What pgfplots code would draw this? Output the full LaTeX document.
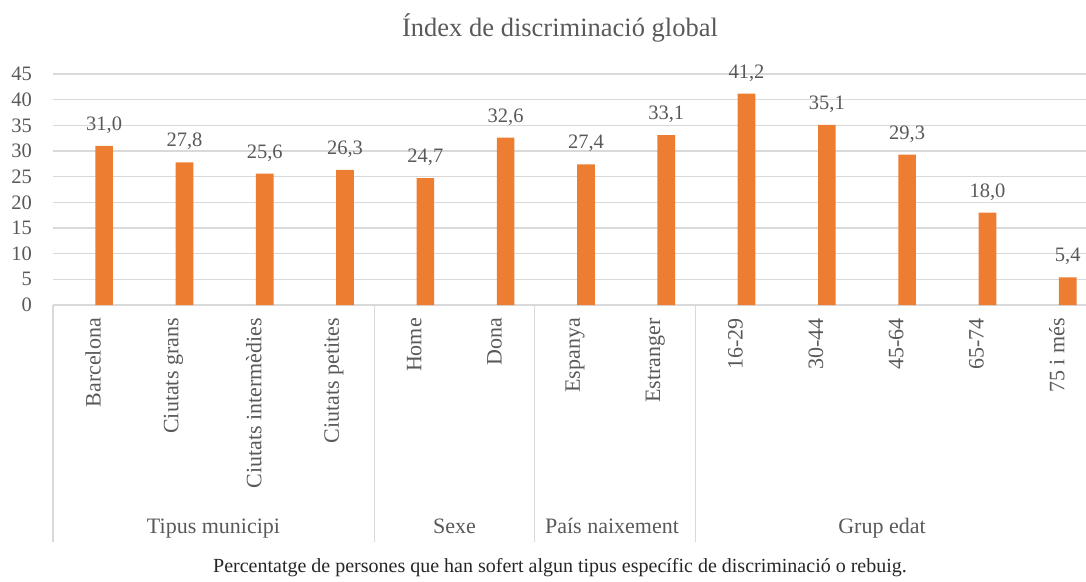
\documentclass[border=0pt]{standalone}
\usepackage{pgfplots}
\pgfplotsset{compat=1.18}
\usepackage{fontspec}
\setmainfont{Liberation Serif}
\definecolor{barorange}{HTML}{ED7D31}
\definecolor{txtgray}{HTML}{595959}
\definecolor{gridgray}{HTML}{D9D9D9}
\begin{document}
\begin{tikzpicture}
\useasboundingbox (0pt,0pt) rectangle (1086pt,581pt);
\clip (0pt,0pt) rectangle (1086pt,581pt);
\begin{axis}[
  at={(53pt,276pt)}, anchor=south west,
  scale only axis, width=1043.9pt, height=231pt,
  xmin=-0.5, xmax=12.5, ymin=0, ymax=45,
  clip=false,
  axis x line*=bottom, axis y line*=left,
  axis line style={draw=none},
  ymajorgrids, grid style={gridgray, line width=1.1pt},
  major tick length=0pt,
  /pgf/number format/assume math mode=true,
  ytick={0,5,...,45},
  yticklabel style={font=\fontsize{20.5}{24}\selectfont, text=txtgray, inner sep=0pt},
  yticklabel shift=21pt,
  xtick={0,...,12},
  xticklabels={Barcelona, Ciutats grans, Ciutats intermèdies, Ciutats petites, Home, Dona, Espanya, Estranger, 16-29, 30-44, 45-64, 65-74, 75 i més},
  xticklabel style={rotate=90, anchor=east, inner sep=0pt, font=\fontsize{22}{26}\selectfont, text=txtgray},
  xticklabel shift=13pt,
]
\addplot[ybar, bar width=0.22, fill=barorange, draw=none,
  nodes near coords={\pgfmathprintnumber[fixed, fixed zerofill, precision=1, use comma, assume math mode=true]{\pgfplotspointmeta}},
  nodes near coords style={anchor=base, yshift=15.5pt, inner sep=0pt, font=\fontsize{20.5}{24}\selectfont, text=txtgray},
] coordinates {(0.137,31.0) (1.137,27.8) (2.137,25.6) (3.137,26.3) (4.137,24.7) (5.137,32.6) (6.137,27.4) (7.137,33.1) (8.137,41.2) (9.137,35.1) (10.137,29.3) (11.137,18.0) (12.137,5.4)};
\end{axis}
\foreach \xx in {53,374.3,534.8,695.4,1096.9}{
  \draw[gridgray, line width=1.2pt] (\xx pt,276pt) -- (\xx pt,39pt);
}
\node[anchor=base, inner sep=0pt, font=\fontsize{22}{26}\selectfont, text=txtgray] at (213.5pt,48pt) {Tipus municipi};
\node[anchor=base, inner sep=0pt, font=\fontsize{22}{26}\selectfont, text=txtgray] at (454.5pt,48pt) {Sexe};
\node[anchor=base, inner sep=0pt, font=\fontsize{22}{26}\selectfont, text=txtgray] at (612pt,48pt) {País naixement};
\node[anchor=base, inner sep=0pt, font=\fontsize{22}{26}\selectfont, text=txtgray] at (882pt,48pt) {Grup edat};
\node[anchor=base, inner sep=0pt, font=\fontsize{26.5}{31}\selectfont, text=txtgray] at (560pt,544pt) {Índex de discriminació global};
\node[anchor=base, inner sep=0pt, font=\fontsize{20}{24}\selectfont, text=black!85] at (560pt,8.3pt) {Percentatge de persones que han sofert algun tipus específic de discriminació o rebuig.};
\end{tikzpicture}
\end{document}
